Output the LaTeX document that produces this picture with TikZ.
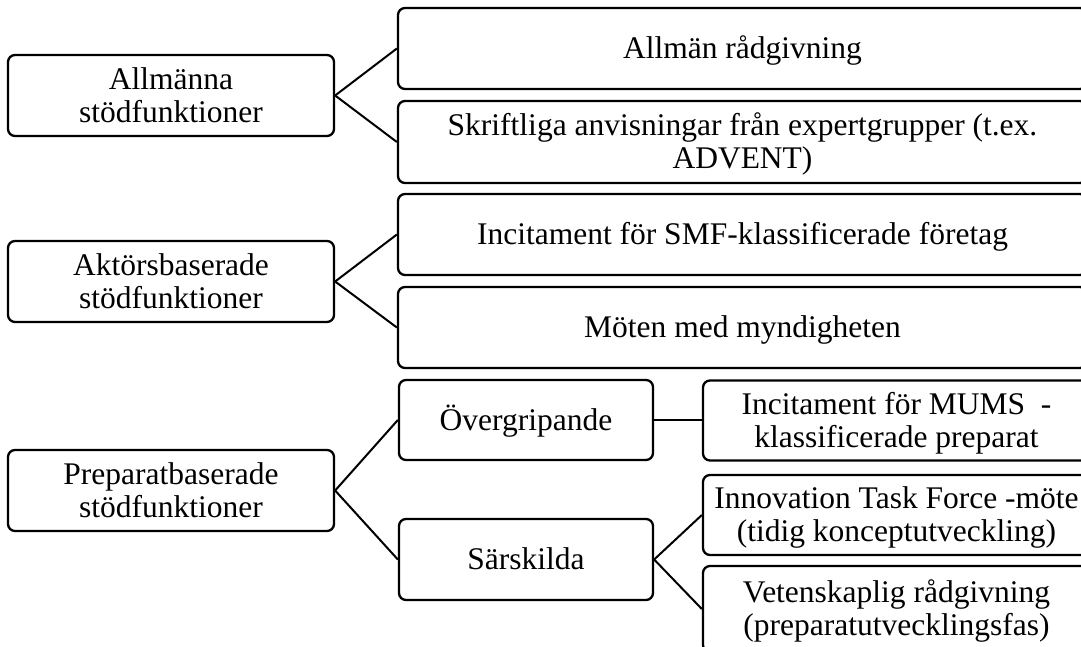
\documentclass[tikz,border=0pt]{standalone}
\usepackage{fontspec}
\setmainfont{Liberation Serif}
\newcommand\lnstrut{\rule[-8pt]{0pt}{36.8pt}}
\newcommand\boxfont{\fontsize{31.5}{33}\selectfont\lineskiplimit=-100pt\relax}
\begin{document}
\begin{tikzpicture}[x=1pt,y=-1pt,
  box/.style={draw=black, line width=2.3pt, rounded corners=7pt, inner sep=0pt,
              align=center, font=\boxfont},
  leftbox/.style={box, minimum width=326pt, minimum height=81pt},
  widebox/.style={box, minimum width=689pt, minimum height=81pt},
  midbox/.style={box, minimum width=254pt, minimum height=80pt},
  subbox/.style={box, minimum width=387pt, minimum height=80pt},
  conn/.style={line width=2pt}]
\useasboundingbox (0,0) rectangle (1081,646);
\clip (0,0) rectangle (1081,646);

% left column
\node[leftbox] (l1) at (171,95.5) {\lnstrut Allmänna\\\lnstrut stödfunktioner};
\node[leftbox] (l2) at (171,281.5) {\lnstrut Aktörsbaserade\\\lnstrut stödfunktioner};
\node[leftbox] (l3) at (171,490.5) {\lnstrut Preparatbaserade\\\lnstrut stödfunktioner};

% wide right boxes
\node[widebox] (r1) at (742.5,48.5) {\lnstrut Allmän rådgivning};
\node[widebox, minimum height=82pt] (r2) at (742.5,142) {\lnstrut Skriftliga anvisningar från expertgrupper (t.ex.\\\lnstrut ADVENT)};
\node[widebox] (r3) at (742.5,234.5) {\lnstrut Incitament för SMF-klassificerade företag};
\node[widebox] (r4) at (742.5,327.5) {\lnstrut Möten med myndigheten};

% middle boxes
\node[midbox] (m1) at (526,420) {\lnstrut Övergripande};
\node[midbox, minimum height=81pt] (m2) at (526,559.5) {\lnstrut Särskilda};

% sub boxes
\node[subbox] (s1) at (896.5,420.5) {\lnstrut Incitament för MUMS\ \ -\\\lnstrut klassificerade preparat};
\node[subbox] (s2) at (896.5,515) {\lnstrut Innovation Task Force -möte\\\lnstrut (tidig konceptutveckling)};
\node[subbox, minimum height=86pt] (s3) at (896.5,609) {\lnstrut Vetenskaplig rådgivning\\\lnstrut (preparatutvecklingsfas)};

% connectors
\draw[conn] (l1.east) -- (r1.west);
\draw[conn] (l1.east) -- (r2.west);
\draw[conn] (l2.east) -- (r3.west);
\draw[conn] (l2.east) -- (r4.west);
\draw[conn] (l3.east) -- (m1.west);
\draw[conn] (l3.east) -- (m2.west);
\draw[conn] (m1.east) -- (m1.east -| s1.west);
\draw[conn] (m2.east) -- (s2.west);
\draw[conn] (m2.east) -- (s3.west);
\end{tikzpicture}
\end{document}
